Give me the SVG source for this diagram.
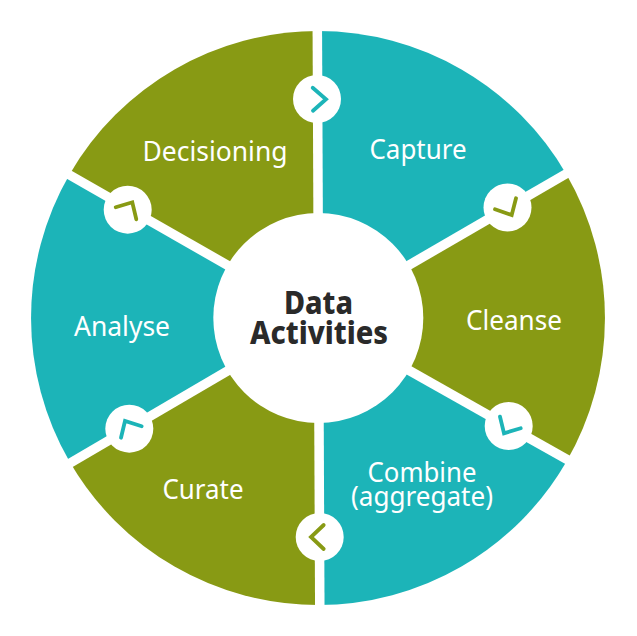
<svg xmlns="http://www.w3.org/2000/svg" width="637" height="636" viewBox="0 0 637 636">
<style>
.teal{fill:#1cb4b8}
.olive{fill:#889a14}
.lbl{font-family:"Noto Sans","Open Sans","Liberation Sans",sans-serif;font-size:26.5px;fill:#fff;text-anchor:middle}
.ctr{font-family:"Noto Sans","Open Sans","Liberation Sans",sans-serif;font-size:32px;font-weight:800;fill:#2a2a2a;text-anchor:middle}
.gap{stroke:#fff;stroke-width:9.5;fill:none}
.hub{fill:#fff}
.chev{fill:none;stroke-width:3.8;stroke-linecap:round;stroke-linejoin:miter}
</style>
<rect width="637" height="636" fill="#fff"/>
<g id="node-capture"><path class="teal" d="M318 318L318 31A287 287 0 0 1 566.5 174.5Z"/></g>
<g id="node-cleanse"><path class="olive" d="M318 318L566.5 174.5A287 287 0 0 1 566.5 461.5Z"/></g>
<g id="node-combine"><path class="teal" d="M318 318L566.5 461.5A287 287 0 0 1 318 605Z"/></g>
<g id="node-curate"><path class="olive" d="M318 318L318 605A287 287 0 0 1 69.5 461.5Z"/></g>
<g id="node-analyse"><path class="teal" d="M318 318L69.5 461.5A287 287 0 0 1 69.5 174.5Z"/></g>
<g id="node-decisioning"><path class="olive" d="M318 318L69.5 174.5A287 287 0 0 1 318 31Z"/></g>
<g id="connectors">
<path class="gap" d="M317.3 25L319.8 611"/>
<path class="gap" d="M318 318L577 167.5"/>
<path class="gap" d="M318 319L578 465.7"/>
<path class="gap" d="M318 318L60 469"/>
<path class="gap" d="M318 317L60 169.5"/>
<circle class="hub" cx="317" cy="99" r="24"/>
<path class="chev" stroke="#1cb4b8" d="M312.7 87.7L326 99.3L313 110.7"/>
<circle class="hub" cx="507.5" cy="207.5" r="24"/>
<path class="chev" stroke="#889a14" d="M495 209.3L511.7 215L516 198.3"/>
<circle class="hub" cx="508.7" cy="426" r="24"/>
<path class="chev" stroke="#1cb4b8" d="M500 416.7L504 433.3L520.7 428.3"/>
<circle class="hub" cx="319.7" cy="537" r="24"/>
<path class="chev" stroke="#889a14" d="M323.7 525L311 537L323.7 549"/>
<circle class="hub" cx="129.3" cy="428.7" r="24"/>
<path class="chev" stroke="#1cb4b8" d="M121 437.7L125 421L141.7 426.3"/>
<circle class="hub" cx="127.7" cy="209.7" r="24"/>
<path class="chev" stroke="#889a14" d="M115.7 207.3L132.3 202.3L136.3 219.3"/>
</g>
<g id="node-center">
<circle cx="318.3" cy="318" r="105" fill="#fff"/>
<text class="ctr" x="318.5" y="313.5" textLength="69" lengthAdjust="spacingAndGlyphs">Data</text>
<text class="ctr" x="319" y="343.5" textLength="138" lengthAdjust="spacingAndGlyphs">Activities</text>
</g>
<g id="labels">
<text class="lbl" x="418" y="159" textLength="97" lengthAdjust="spacingAndGlyphs">Capture</text>
<text class="lbl" x="514" y="330" textLength="96" lengthAdjust="spacingAndGlyphs">Cleanse</text>
<text class="lbl" x="422" y="481.5" textLength="109" lengthAdjust="spacingAndGlyphs">Combine</text>
<text class="lbl" x="422" y="505.5" textLength="142" lengthAdjust="spacingAndGlyphs">(aggregate)</text>
<text class="lbl" x="203" y="499" textLength="81" lengthAdjust="spacingAndGlyphs">Curate</text>
<text class="lbl" x="122" y="336" textLength="96" lengthAdjust="spacingAndGlyphs">Analyse</text>
<text class="lbl" x="215" y="161" textLength="145" lengthAdjust="spacingAndGlyphs">Decisioning</text>
</g>
</svg>
